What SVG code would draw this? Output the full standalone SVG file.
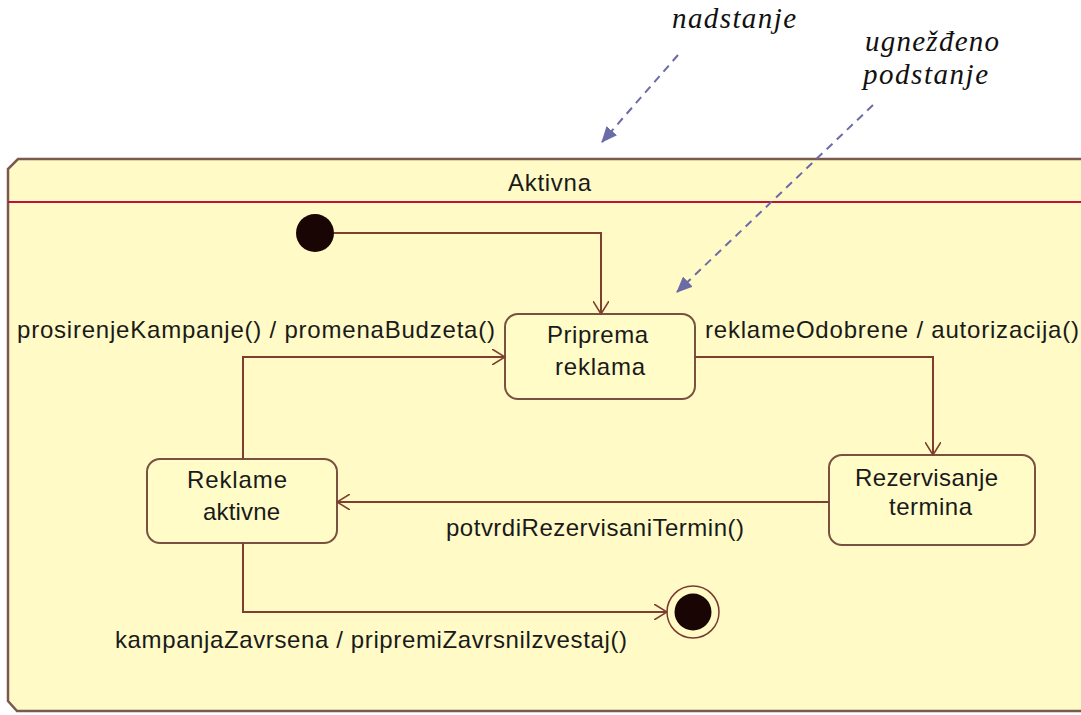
<svg xmlns="http://www.w3.org/2000/svg" width="1081" height="715" viewBox="0 0 1081 715">
<style>
.lbl{font-family:"Liberation Sans",Arial,sans-serif;font-size:24px;fill:#1a1a1a}
.ann{font-family:"Liberation Serif","Times New Roman",serif;font-size:29px;font-style:italic;fill:#111}
.st{fill:#fffcc8;stroke:#7a5040;stroke-width:2}
.tr{fill:none;stroke:#7f3f30;stroke-width:2}
.dash{fill:none;stroke:#6b6ba8;stroke-width:2;stroke-dasharray:8 6}
</style>
<defs>
<marker id="open" viewBox="0 0 14 16" refX="13" refY="8" markerWidth="14" markerHeight="16" markerUnits="userSpaceOnUse" orient="auto">
<path d="M0,0 L13,8 L0,16" fill="none" stroke="#7f3f30" stroke-width="1.6"/>
</marker>
<marker id="fill" viewBox="0 0 16 14" refX="15" refY="7" markerWidth="16" markerHeight="14" markerUnits="userSpaceOnUse" orient="auto">
<path d="M0,0 L16,7 L0,14 Z" fill="#6b6ba8"/>
</marker>
</defs>
<rect width="1081" height="715" fill="#ffffff"/>
<g id="aktivna">
<path d="M1095,159 L18,159 L8,169 L8,701 L17,711 L1095,711 Z" fill="#fffac6" stroke="#7a5a50" stroke-width="2.5"/>
<line x1="8" y1="202" x2="1095" y2="202" stroke="#c0103c" stroke-width="2"/>
<text class="lbl" x="508" y="191" textLength="83">Aktivna</text>
</g>
<g id="initial">
<circle cx="315" cy="233" r="19" fill="#1a0505"/>
</g>
<g id="priprema">
<rect class="st" x="505" y="314" width="190" height="85" rx="13"/>
<text class="lbl" x="547" y="343" textLength="101">Priprema</text>
<text class="lbl" x="555" y="375" textLength="90">reklama</text>
</g>
<g id="rezervisanje">
<rect class="st" x="829" y="455" width="206" height="90" rx="13"/>
<text class="lbl" x="855" y="486" textLength="143">Rezervisanje</text>
<text class="lbl" x="889" y="515" textLength="83">termina</text>
</g>
<g id="reklame">
<rect class="st" x="147" y="459" width="190" height="84" rx="13"/>
<text class="lbl" x="187" y="488" textLength="100">Reklame</text>
<text class="lbl" x="203" y="520" textLength="77">aktivne</text>
</g>
<g id="final">
<circle cx="693" cy="612" r="26" fill="#fffac6" stroke="#7a3a30" stroke-width="1.5"/>
<circle cx="693" cy="612" r="18.5" fill="#1a0505"/>
</g>
<g id="connectors">
<path class="tr" d="M334,233 L601,233 L601,314" marker-end="url(#open)"/>
<path class="tr" d="M695,357 L933,357 L933,455" marker-end="url(#open)"/>
<path class="tr" d="M829,502 L337,502" marker-end="url(#open)"/>
<path class="tr" d="M243,459 L243,357 L505,357" marker-end="url(#open)"/>
<path class="tr" d="M243,543 L243,612 L667,612" marker-end="url(#open)"/>
<text class="lbl" x="17" y="338" textLength="478">prosirenjeKampanje() / promenaBudzeta()</text>
<text class="lbl" x="705" y="338" textLength="374">reklameOdobrene / autorizacija()</text>
<text class="lbl" x="446" y="536" textLength="298">potvrdiRezervisaniTermin()</text>
<text class="lbl" x="115" y="648" textLength="512">kampanjaZavrsena / pripremiZavrsnilzvestaj()</text>
</g>
<g id="annotations">
<path class="dash" d="M678,55 L602,142" marker-end="url(#fill)"/>
<path class="dash" d="M873,105 L677,292" marker-end="url(#fill)"/>
<text class="ann" x="672" y="28" textLength="124">nadstanje</text>
<text class="ann" x="865" y="51" textLength="134">ugnežđeno</text>
<text class="ann" x="863" y="84" textLength="125">podstanje</text>
</g>
</svg>
